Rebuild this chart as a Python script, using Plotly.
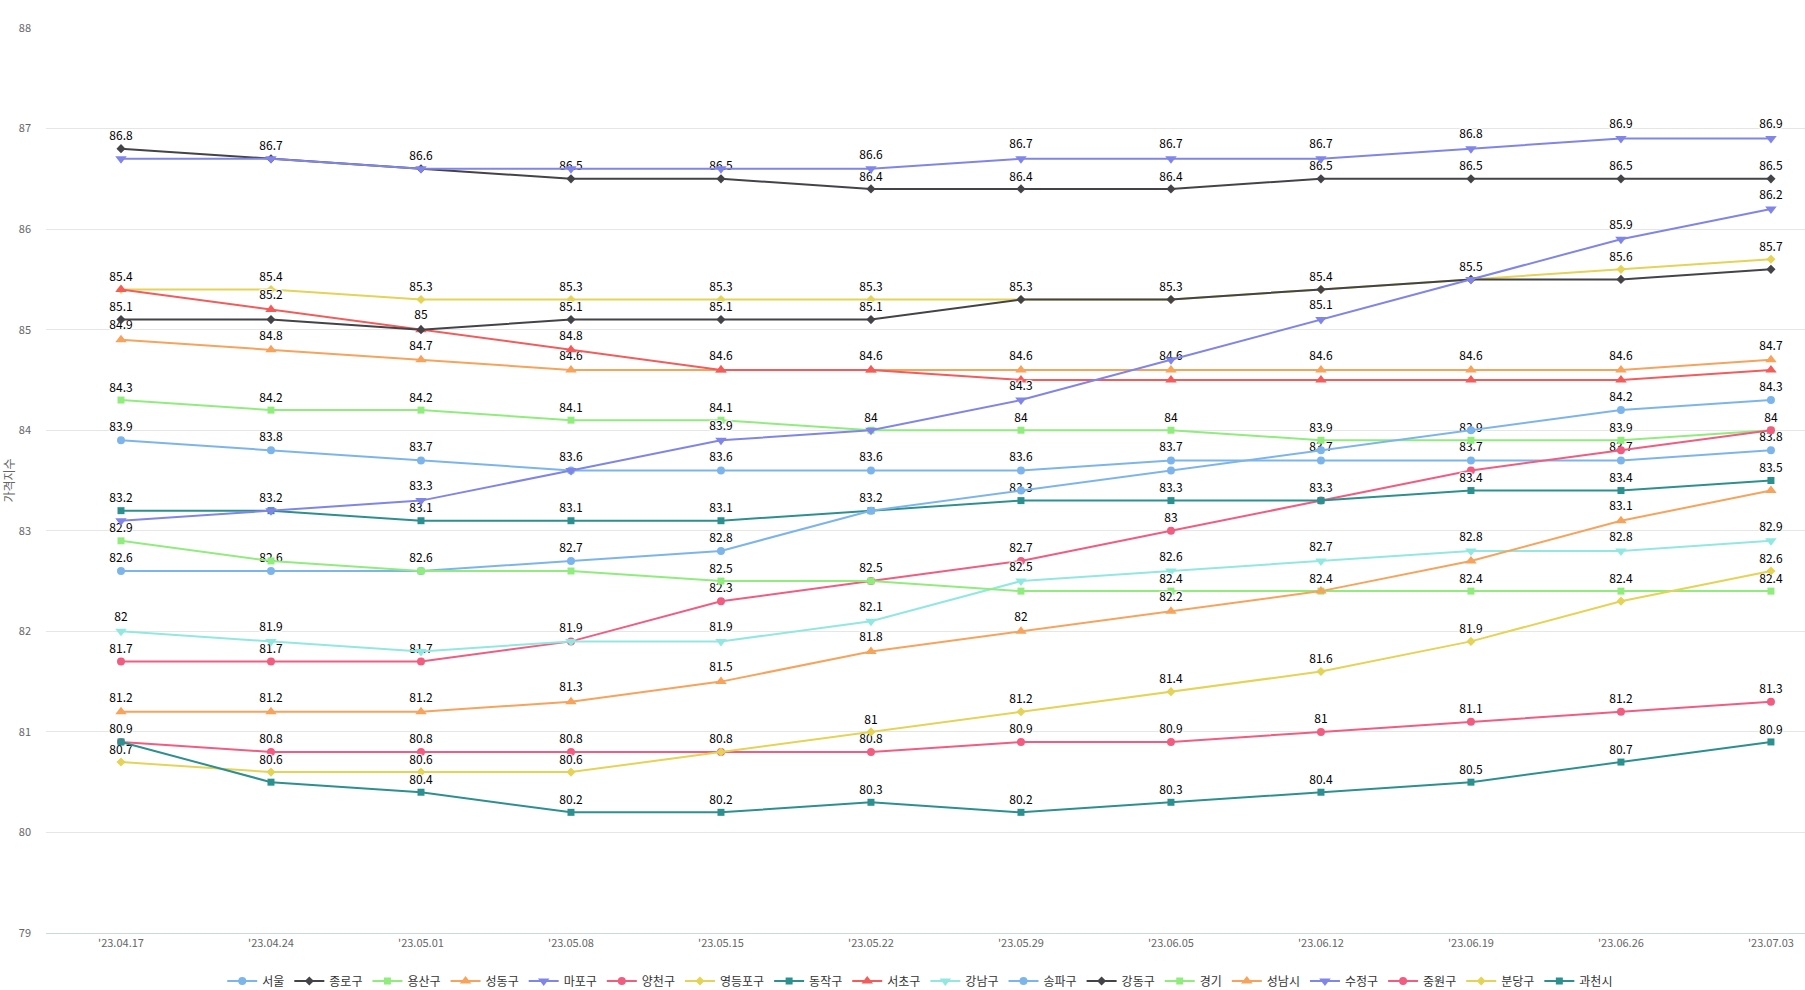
import plotly.graph_objects as go

dates = ["'23.04.17", "'23.04.24", "'23.05.01", "'23.05.08", "'23.05.15", "'23.05.22",
         "'23.05.29", "'23.06.05", "'23.06.12", "'23.06.19", "'23.06.26", "'23.07.03"]

seoul      = [83.9, 83.8, 83.7, 83.6, 83.6, 83.6, 83.6, 83.7, 83.7, 83.7, 83.7, 83.8]
jongno     = [86.8, 86.7, 86.6, 86.5, 86.5, 86.4, 86.4, 86.4, 86.5, 86.5, 86.5, 86.5]
yongsan    = [84.3, 84.2, 84.2, 84.1, 84.1, 84.0, 84.0, 84.0, 83.9, 83.9, 83.9, 84.0]
seongdong  = [84.9, 84.8, 84.7, 84.6, 84.6, 84.6, 84.6, 84.6, 84.6, 84.6, 84.6, 84.7]
mapo       = [86.7, 86.7, 86.6, 86.6, 86.6, 86.6, 86.7, 86.7, 86.7, 86.8, 86.9, 86.9]
yangcheon  = [81.7, 81.7, 81.7, 81.9, 82.3, 82.5, 82.7, 83.0, 83.3, 83.6, 83.8, 84.0]
yeongdeungpo = [85.4, 85.4, 85.3, 85.3, 85.3, 85.3, 85.3, 85.3, 85.4, 85.5, 85.6, 85.7]
dongjak    = [83.2, 83.2, 83.1, 83.1, 83.1, 83.2, 83.3, 83.3, 83.3, 83.4, 83.4, 83.5]
seocho     = [85.4, 85.2, 85.0, 84.8, 84.6, 84.6, 84.5, 84.5, 84.5, 84.5, 84.5, 84.6]
gangnam    = [82.0, 81.9, 81.8, 81.9, 81.9, 82.1, 82.5, 82.6, 82.7, 82.8, 82.8, 82.9]
songpa     = [82.6, 82.6, 82.6, 82.7, 82.8, 83.2, 83.4, 83.6, 83.8, 84.0, 84.2, 84.3]
gangdong   = [85.1, 85.1, 85.0, 85.1, 85.1, 85.1, 85.3, 85.3, 85.4, 85.5, 85.5, 85.6]
gyeonggi   = [82.9, 82.7, 82.6, 82.6, 82.5, 82.5, 82.4, 82.4, 82.4, 82.4, 82.4, 82.4]
seongnam   = [81.2, 81.2, 81.2, 81.3, 81.5, 81.8, 82.0, 82.2, 82.4, 82.7, 83.1, 83.4]
sujeong    = [83.1, 83.2, 83.3, 83.6, 83.9, 84.0, 84.3, 84.7, 85.1, 85.5, 85.9, 86.2]
jungwon    = [80.9, 80.8, 80.8, 80.8, 80.8, 80.8, 80.9, 80.9, 81.0, 81.1, 81.2, 81.3]
bundang    = [80.7, 80.6, 80.6, 80.6, 80.8, 81.0, 81.2, 81.4, 81.6, 81.9, 82.3, 82.6]
gwacheon   = [80.9, 80.5, 80.4, 80.2, 80.2, 80.3, 80.2, 80.3, 80.4, 80.5, 80.7, 80.9]

names = ["서울", "종로구", "용산구", "성동구", "마포구", "양천구", "영등포구", "동작구", "서초구",
         "강남구", "송파구", "강동구", "경기", "성남시", "수정구", "중원구", "분당구", "과천시"]
values = [seoul, jongno, yongsan, seongdong, mapo, yangcheon, yeongdeungpo, dongjak, seocho,
          gangnam, songpa, gangdong, gyeonggi, seongnam, sujeong, jungwon, bundang, gwacheon]

palette = ["#7cb5ec", "#434348", "#90ed7d", "#f7a35c", "#8085e9",
           "#f15c80", "#e4d354", "#2b908f", "#f45b5b", "#91e8e1"]
symbols = ["circle", "diamond", "square", "triangle-up", "triangle-down"]
sym_size = {"circle": 8, "diamond": 7, "square": 7, "triangle-up": 10, "triangle-down": 10}

y_min, y_max = 79, 88
plot_h = 905
px_per_unit = plot_h / (y_max - y_min)
label_h = 14  # px

# hide overlapping data labels (earlier series win), like Highcharts
shown = [[True] * len(dates) for _ in names]
for j in range(len(dates)):
    placed = []
    for i, vals in enumerate(values):
        y = vals[j] * px_per_unit
        if any(abs(y - p) < label_h for p in placed):
            shown[i][j] = False
        else:
            placed.append(y)

fig = go.Figure()
for i, (name, vals) in enumerate(zip(names, values)):
    color = palette[i % 10]
    sym = symbols[i % 5]
    texts = [(f"{v:g}" if shown[i][j] else "") for j, v in enumerate(vals)]
    fig.add_trace(go.Scatter(
        x=dates, y=vals, name=name, mode="lines+markers+text",
        line=dict(color=color, width=2),
        marker=dict(color=color, size=sym_size[sym], symbol=sym),
        text=texts, textposition="top center",
        textfont=dict(family="Noto Sans CJK KR, sans-serif", size=12, color="#000000",
                      shadow="1px 1px 1px #fff, -1px -1px 1px #fff, 1px -1px 1px #fff, -1px 1px 1px #fff"),
        cliponaxis=False,
    ))

fig.update_layout(
    width=1805, height=990,
    margin=dict(l=46, r=0, t=28, b=57, autoexpand=False),
    paper_bgcolor="white", plot_bgcolor="white",
    font=dict(family="Noto Sans CJK KR, sans-serif", color="#333333"),
    showlegend=True,
    legend=dict(orientation="h", x=0.497, xanchor="center", y=-0.053, yanchor="middle",
                font=dict(size=12, color="#333333"), itemwidth=30,
                tracegroupgap=0, itemclick=False),
    xaxis=dict(type="category", range=[-0.5, 11.227], showgrid=False, automargin=False,
               showline=True, linecolor="#ccd6eb", linewidth=1, ticks="",
               tickfont=dict(size=11, color="#666666"), zeroline=False),
    yaxis=dict(range=[y_min, y_max], dtick=1, showgrid=True, gridcolor="#e6e6e6",
               gridwidth=1, zeroline=False, showline=False, automargin=False,
               tickfont=dict(size=11, color="#666666"), ticklabelstandoff=14,
               title=dict(text="가격지수", font=dict(size=12, color="#666666"), standoff=4)),
)

fig.write_html("out.html", config={"displayModeBar": False},
               post_script="document.body.style.margin='0';")
